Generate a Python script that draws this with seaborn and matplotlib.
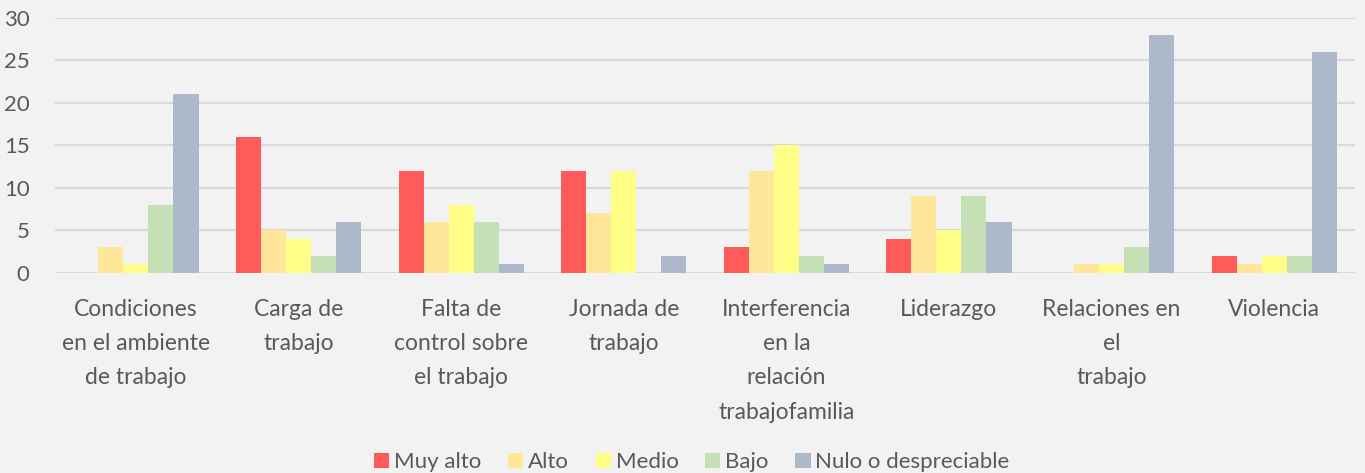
import pandas as pd
import numpy as np
import matplotlib.pyplot as plt
import seaborn as sns

categories = ["Condiciones\nen el ambiente\nde trabajo", "Carga de\ntrabajo",
              "Falta de\ncontrol sobre\nel trabajo", "Jornada de\ntrabajo",
              "Interferencia\nen la\nrelación\ntrabajofamilia", "Liderazgo",
              "Relaciones en\nel\ntrabajo", "Violencia"]
levels = ["Muy alto", "Alto", "Medio", "Bajo", "Nulo o despreciable"]
muy_alto = [0, 16, 12, 12, 3, 4, 0, 2]
alto = [3, 5, 6, 7, 12, 9, 1, 1]
medio = [1, 4, 8, 12, 15, 5, 1, 2]
bajo = [8, 2, 6, 0, 2, 9, 3, 2]
nulo = [21, 6, 1, 2, 1, 6, 28, 26]
colors = ["#FF5B5B", "#FFE699", "#FFFF88", "#C5E0B4", "#ADB9CA"]


def main():
    rows = []
    for lvl, vals in zip(levels, [muy_alto, alto, medio, bajo, nulo]):
        for cat, v in zip(categories, vals):
            rows.append({"categoria": cat, "nivel": lvl, "valor": v})
    df = pd.DataFrame(rows)

    sns.set_style("white")
    plt.rcParams['font.family'] = ['Lato', 'DejaVu Sans']
    txt = "#595959"

    fig = plt.figure(figsize=(13.65, 4.73), dpi=100, facecolor="#F2F2F2")
    ax = fig.add_axes([0.040, 0.423, 0.953, 0.539])
    ax.set_facecolor("#F2F2F2")

    sns.barplot(data=df, x="categoria", y="valor", hue="nivel", hue_order=levels,
                order=categories, palette=colors, width=0.77, saturation=1,
                linewidth=0, ax=ax, zorder=3)

    ax.set_ylim(0, 30)
    ax.set_yticks(range(0, 31, 5))
    ax.grid(axis="y", color="#D9D9D9", linewidth=1.6, zorder=0)
    ax.set_axisbelow(True)
    for s in ax.spines.values():
        s.set_visible(False)
    ax.set_xlabel("")
    ax.set_ylabel("")
    ax.tick_params(axis="y", length=0, labelsize=16, colors=txt, pad=18)
    ax.tick_params(axis="x", length=0, labelsize=16.5, colors=txt, pad=19)
    for lab in ax.get_xticklabels():
        lab.set_linespacing(1.77)
        lab.set_verticalalignment("top")

    ax.legend(loc="center", bbox_to_anchor=(0.49, -0.743), ncol=5, frameon=False,
              fontsize=16, labelcolor=txt, handlelength=0.68, handleheight=0.68,
              handletextpad=0.22, columnspacing=1.2)

    fig.savefig("out.png", dpi=100, facecolor=fig.get_facecolor())
    plt.close()


if __name__ == "__main__":
    main()
